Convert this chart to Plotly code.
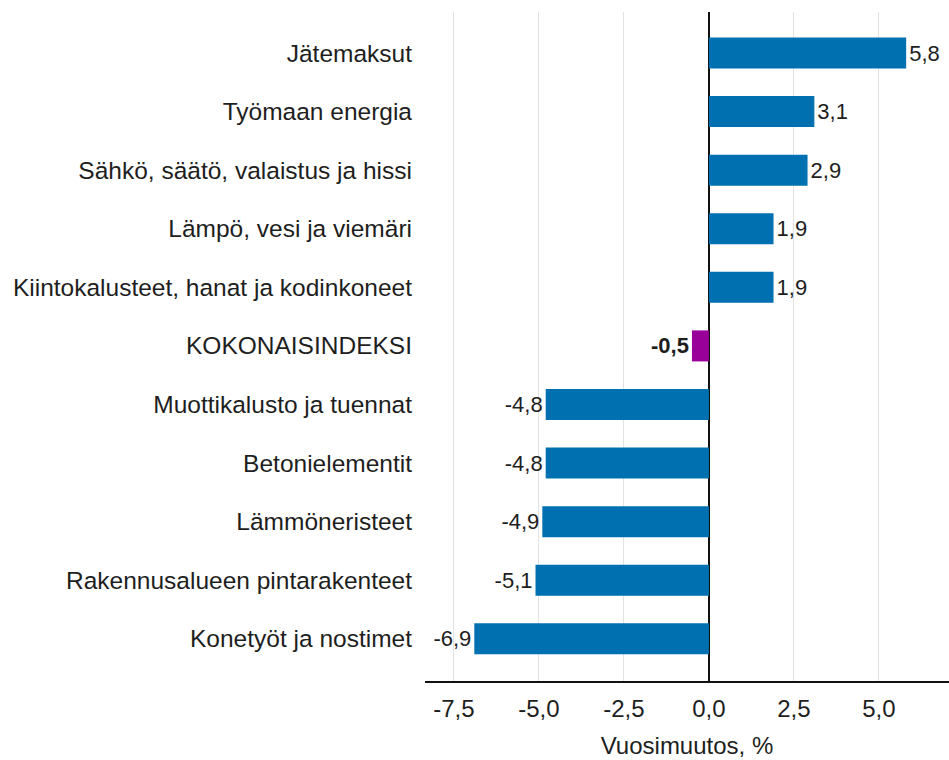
import plotly.graph_objects as go

categories = [
    "Jätemaksut",
    "Työmaan energia",
    "Sähkö, säätö, valaistus ja hissi",
    "Lämpö, vesi ja viemäri",
    "Kiintokalusteet, hanat ja kodinkoneet",
    "KOKONAISINDEKSI",
    "Muottikalusto ja tuennat",
    "Betonielementit",
    "Lämmöneristeet",
    "Rakennusalueen pintarakenteet",
    "Konetyöt ja nostimet",
]
values = [5.8, 3.1, 2.9, 1.9, 1.9, -0.5, -4.8, -4.8, -4.9, -5.1, -6.9]
tick_vals = [-7.5, -5.0, -2.5, 0.0, 2.5, 5.0]
tick_text = ["-7,5", "-5,0", "-2,5", "0,0", "2,5", "5,0"]

total_name = "KOKONAISINDEKSI"
colors = ["#990099" if c == total_name else "#0070B0" for c in categories]
texts = []
for c, v in zip(categories, values):
    s = f"{v:.1f}".replace(".", ",")
    texts.append(f"<b>{s}</b>" if c == total_name else s)

FONT = "Liberation Sans, Arial, sans-serif"
FS = 24
TXT = "#1e1e1e"

fig = go.Figure(go.Bar(
    y=categories,
    x=values,
    orientation="h",
    marker=dict(color=colors, line=dict(width=0)),
    width=0.53,
    text=texts,
    textposition="outside",
    textfont=dict(size=22, color=TXT, family=FONT),
    cliponaxis=False,
    hoverinfo="skip",
))

fig.update_layout(
    width=949, height=760,
    margin=dict(l=425, r=0, t=12, b=79),
    plot_bgcolor="white", paper_bgcolor="white",
    font=dict(family=FONT, size=FS, color=TXT),
    showlegend=False,
    separators=", ",
    xaxis=dict(
        range=[-8.35, 7.06],
        tickvals=tick_vals,
        ticktext=tick_text,
        showgrid=True, gridcolor="#e3e3e3", gridwidth=1,
        zeroline=True, zerolinecolor="#111111", zerolinewidth=2,
        showline=True, linecolor="#111111", linewidth=2,
        ticks="", ticklabelstandoff=5,
        tickfont=dict(size=FS, color=TXT),
        title=dict(text="Vuosimuutos, %", font=dict(size=FS, color=TXT), standoff=16),
        automargin=False,
        fixedrange=True,
    ),
    yaxis=dict(
        categoryorder="array", categoryarray=categories,
        autorange=False, range=[10.72, -0.70],
        showgrid=False, zeroline=False, showline=False,
        ticks="", ticklabelstandoff=12,
        tickfont=dict(size=24.5, color=TXT),
        automargin=False,
        fixedrange=True,
    ),
)

fig.write_html(
    "out.html",
    config={"displayModeBar": False},
    post_script="document.body.style.margin='0';document.body.style.overflow='hidden';",
)
